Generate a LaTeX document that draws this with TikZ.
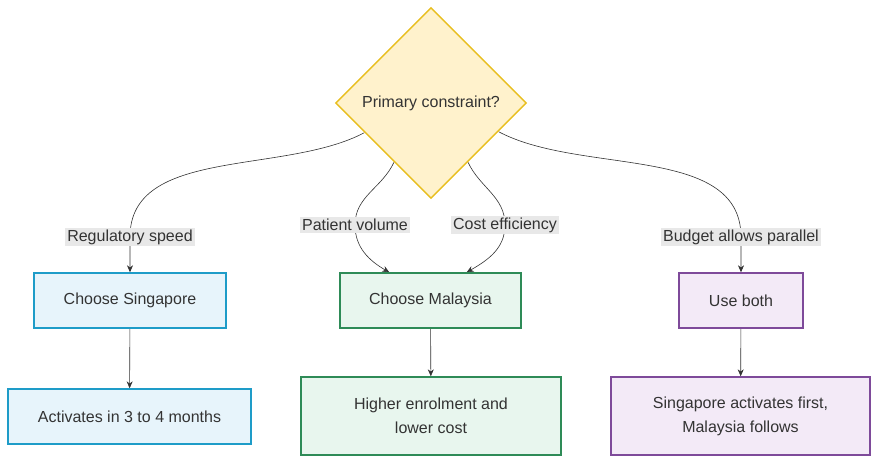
\documentclass[tikz,border=0pt]{standalone}
\usepackage{fontspec}
\setmainfont{Liberation Sans}
\usetikzlibrary{shapes.geometric,arrows.meta,backgrounds}
\definecolor{qfill}{HTML}{FFF2CC}
\definecolor{qline}{HTML}{E8BE1E}
\definecolor{sgfill}{HTML}{E7F4FB}
\definecolor{sgline}{HTML}{1E9CC8}
\definecolor{myfill}{HTML}{E8F6EE}
\definecolor{myline}{HTML}{2E8B57}
\definecolor{bfill}{HTML}{F3EAF7}
\definecolor{bline}{HTML}{7E4A9A}
\definecolor{lab}{HTML}{E8E8E8}
\definecolor{ink}{HTML}{333333}
\tikzset{
  box/.style={draw, line width=1.4pt, align=center, inner sep=0pt, text=ink},
  lbl/.style={fill=lab, inner sep=2pt, text=ink},
  flow/.style={draw=ink, line width=0.6pt, -{Stealth[length=7pt,width=6pt]}}
}
\begin{document}
\begin{tikzpicture}[x=1pt,y=-1pt,font=\fontsize{16}{24}\selectfont]
\useasboundingbox (0,0) rectangle (879,464);
\node[box, shape=diamond, fill=qfill, draw=qline, minimum width=191, minimum height=191] (q) at (431,103) {Primary constraint?};
\node[box, fill=sgfill, draw=sgline, minimum width=192, minimum height=55] (sg) at (130,300.5) {Choose Singapore};
\node[box, fill=myfill, draw=myline, minimum width=181, minimum height=55] (my) at (430.5,300.5) {Choose Malaysia};
\node[box, fill=bfill, draw=bline, minimum width=124, minimum height=55] (both) at (741,300.5) {Use both};
\node[box, fill=sgfill, draw=sgline, minimum width=243, minimum height=55] (sgt) at (129.5,416.5) {Activates in 3 to 4 months};
\node[box, fill=myfill, draw=myline, minimum width=260, minimum height=78] (myt) at (431,416) {Higher enrolment and\\lower cost};
\node[box, fill=bfill, draw=bline, minimum width=259, minimum height=78] (bt) at (740.5,416) {Singapore activates first,\\Malaysia follows};
% edge labels
\node[lbl] (l1) at (130,237) {Regulatory speed};
\node[lbl] (l2) at (355,225) {Patient volume};
\node[lbl] (l3) at (505,225) {Cost efficiency};
\node[lbl] (l4) at (741,237) {Budget allows parallel};
\begin{pgfonlayer}{background}
\draw[flow] (q.204) to[out=208,in=90,looseness=0.9] (l1.center) -- (sg.north);
\draw[flow] (q.238) to[out=245,in=90] (l2.center) to[out=-90,in=150] ([xshift=50pt]my.north west);
\draw[flow] (q.302) to[out=295,in=90] (l3.center) to[out=-90,in=30] ([xshift=-55pt]my.north east);
\draw[flow] (q.337) to[out=-28,in=90,looseness=0.9] (l4.center) -- (both.north);
\draw[flow] (sg) -- (sgt);
\draw[flow] (my) -- (myt);
\draw[flow] (both) -- (bt);
\end{pgfonlayer}
\end{tikzpicture}
\end{document}
